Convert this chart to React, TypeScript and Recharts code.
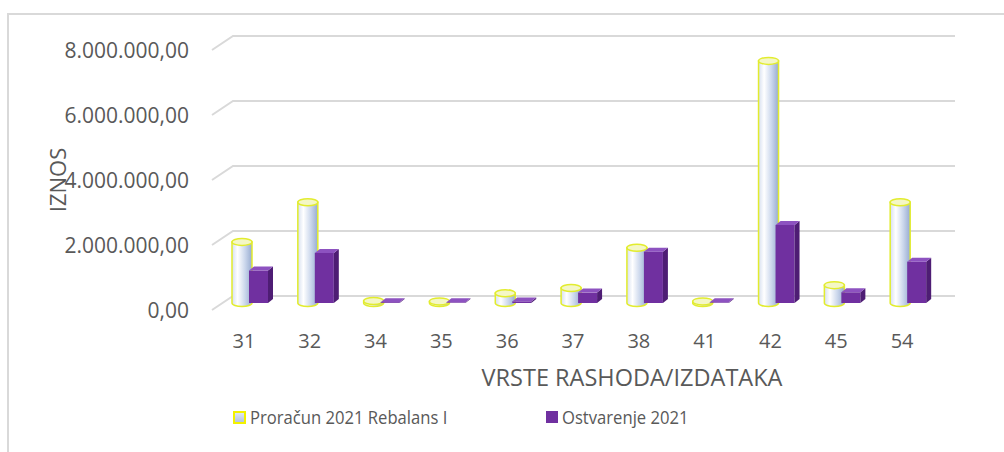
import React from 'react'
import { BarChart, Bar, XAxis, YAxis, CartesianGrid } from 'recharts'

if (typeof document !== 'undefined') document.body.style.margin = '0'

// vrste rashoda/izdataka
const categories = ['31', '32', '34', '35', '36', '37', '38', '41', '42', '45', '54']
const proracun = [1880000, 3100000, 60000, 50000, 300000, 460000, 1700000, 50000, 7450000, 550000, 3100000]
const ostvarenje = [1000000, 1540000, 25000, 20000, 50000, 320000, 1580000, 20000, 2400000, 330000, 1270000]
const yTicks = [0, 2000000, 4000000, 6000000, 8000000]
const seriesNames = ['Proračun 2021 Rebalans I', 'Ostvarenje 2021']

const data = categories.map((c, i) => ({ name: c, proracun: proracun[i], ostvarenje: ostvarenje[i] }))

const FONT = '"Open Sans", sans-serif'
const TEXT = '#595959'
const GRID = '#d9d9d9'
const YELLOW = '#e2ec2e'
// 3D depth offset (bars sit a bit in front of the back wall)
const DX = 7
const DY = 7

function fmt(v: number) {
  const [int, dec] = v.toFixed(2).split('.')
  return int.replace(/\B(?=(\d{3})+(?!\d))/g, '.') + ',' + dec
}

function YTick({ x, y, payload }: any) {
  return (
    <text x={x} y={y + 14} textAnchor="end" dominantBaseline="central" fill={TEXT} fontSize={21} fontFamily={FONT}>
      {fmt(payload.value)}
    </text>
  )
}

function XTick({ x, y, payload }: any) {
  return (
    <text x={x} y={y + 44} textAnchor="middle" dominantBaseline="central" fill={TEXT} fontSize={20} fontFamily={FONT}>
      {payload.value}
    </text>
  )
}

function GridLine({ x1, x2, y1 }: any) {
  return (
    <polyline
      points={`${x1 + 1},${y1 + 14} ${x1 + 22},${y1} ${x2 + 20},${y1}`}
      fill="none"
      stroke={GRID}
      strokeWidth={2}
    />
  )
}

function Cylinder({ x, y, width, height }: any) {
  if (width == null) return null
  const left = x + DX
  const right = left + width
  const top = y + DY
  const bottom = y + height + DY
  const rx = width / 2
  const ry = 3.5
  const cx = left + rx
  return (
    <g>
      <path
        d={`M${left},${top} L${left},${bottom} A${rx},${ry} 0 0 0 ${right},${bottom} L${right},${top} Z`}
        fill="url(#cylGrad)"
        stroke={YELLOW}
        strokeWidth={1.5}
      />
      <ellipse cx={cx} cy={top} rx={rx} ry={ry} fill="#f4f7c6" stroke={YELLOW} strokeWidth={1.5} />
    </g>
  )
}

function Box({ x, y, width, height }: any) {
  if (width == null) return null
  const d = 5
  const fw = width - 1
  const left = x + DX
  const top = y + DY
  const bottom = y + height + DY
  return (
    <g>
      <rect x={left} y={top} width={fw} height={Math.max(bottom - top, 0.5)} fill="#7030a0" />
      <polygon
        points={`${left + fw},${top} ${left + fw + d},${top - 4} ${left + fw + d},${bottom - 4} ${left + fw},${bottom}`}
        fill="#4e1d74"
      />
      <polygon
        points={`${left},${top} ${left + d},${top - 4} ${left + fw + d},${top - 4} ${left + fw},${top}`}
        fill="#8d52c0"
      />
    </g>
  )
}

const legendText: React.CSSProperties = {
  display: 'inline-block',
  transform: 'scaleX(0.875)',
  transformOrigin: 'left center',
}

export default function App() {
  return (
    <div style={{ position: 'relative', width: 1004, height: 452, background: '#fff', overflow: 'hidden' }}>
      <div
        style={{
          position: 'absolute',
          left: 7,
          top: 13,
          width: 1100,
          height: 600,
          border: `2px solid ${GRID}`,
        }}
      />
      <div style={{ position: 'absolute', left: 0, top: 0 }}>
        <BarChart
          width={1004}
          height={452}
          data={data}
          margin={{ top: 36, right: 69, bottom: 96, left: 0 }}
          barSize={20}
          barGap={-3}
        >
          <defs>
            <linearGradient id="cylGrad" x1="0" y1="0" x2="1" y2="0">
              <stop offset="0%" stopColor="#d6dff0" />
              <stop offset="28%" stopColor="#ffffff" />
              <stop offset="65%" stopColor="#cbd7ec" />
              <stop offset="100%" stopColor="#97abd0" />
            </linearGradient>
          </defs>
          <CartesianGrid vertical={false} horizontal={(p: any) => <GridLine key={p.key ?? p.index} {...p} />} />
          <XAxis
            dataKey="name"
            height={60}
            axisLine={false}
            tickLine={false}
            tickSize={0}
            tickMargin={0}
            tick={<XTick />}
            interval={0}
          />
          <YAxis
            width={211}
            domain={[0, 8000000]}
            ticks={yTicks}
            axisLine={false}
            tickLine={false}
            tickSize={0}
            tickMargin={22}
            tick={<YTick />}
            interval={0}
          />
          <Bar dataKey="proracun" name={seriesNames[0]} shape={<Cylinder />} isAnimationActive={false} />
          <Bar dataKey="ostvarenje" name={seriesNames[1]} shape={<Box />} isAnimationActive={false} />
          <text
            x={632}
            y={377}
            textAnchor="middle"
            dominantBaseline="central"
            fill={TEXT}
            fontSize={23.5}
            fontFamily={FONT}
          >
            VRSTE RASHODA/IZDATAKA
          </text>
          <text
            x={57}
            y={180}
            transform="rotate(-90 57 180)"
            textAnchor="middle"
            dominantBaseline="central"
            fill={TEXT}
            fontSize={22}
            fontFamily={FONT}
          >
            IZNOS
          </text>
        </BarChart>
      </div>
      <div
        style={{
          position: 'absolute',
          left: 233,
          top: 404,
          display: 'flex',
          alignItems: 'center',
          fontFamily: FONT,
          fontSize: 19,
          color: TEXT,
          whiteSpace: 'nowrap',
        }}
      >
        <span
          style={{
            display: 'inline-block',
            width: 9,
            height: 9,
            border: `2px solid #f2f200`,
            background: 'linear-gradient(#dfe6f3, #b3c3e0)',
            marginRight: 4,
          }}
        />
        <span style={{ ...legendText, width: 296 }}>{seriesNames[0]}</span>
        <span style={{ display: 'inline-block', width: 12, height: 12, background: '#7030a0', marginRight: 4 }} />
        <span style={legendText}>{seriesNames[1]}</span>
      </div>
    </div>
  )
}
